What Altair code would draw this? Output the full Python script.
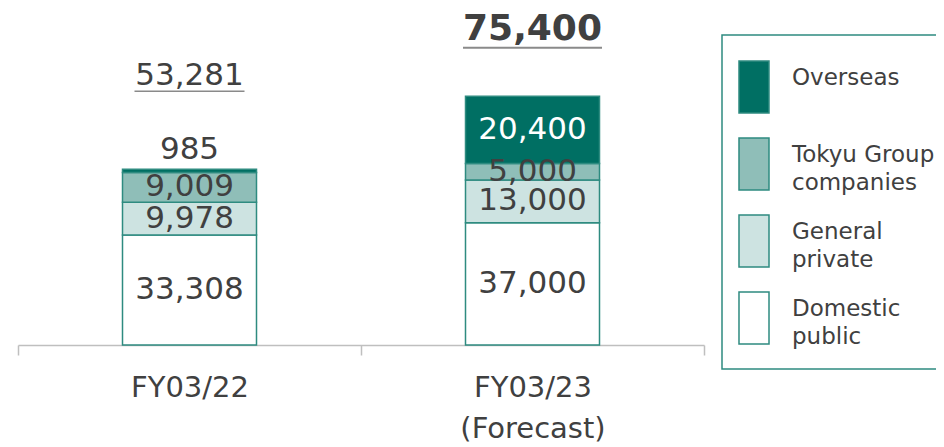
import altair as alt
import pandas as pd

categories = ["FY03/22", "FY03/23 (Forecast)"]
series = ["Overseas", "Tokyu Group companies", "General private", "Domestic public"]
domestic_public = [33308, 37000]
general_private = [9978, 13000]
tokyu_group = [9009, 5000]
overseas = [985, 20400]
totals = [53281, 75400]
colors = ["#006F63", "#8FBEB8", "#CDE3E1", "#FFFFFF"]

values = {
    "Domestic public": domestic_public,
    "General private": general_private,
    "Tokyu Group companies": tokyu_group,
    "Overseas": overseas,
}
stack_order = ["Domestic public", "General private", "Tokyu Group companies", "Overseas"]

rows = []
for i, c in enumerate(categories):
    base = 0
    for k, s in enumerate(stack_order):
        v = values[s][i]
        rows.append(dict(cat=c, series=s, value=v, y0=base, y1=base + v,
                         mid=base + v / 2, label=f"{v:,}"))
        base += v
df = pd.DataFrame(rows)
tot = pd.DataFrame({"cat": categories, "total": totals,
                    "label": [f"{t:,}" for t in totals]})

FONT = "DejaVu Sans"
TXT = "#404040"
TEAL = "#2E8B80"

x_enc = alt.X("cat:N", sort=categories,
              scale=alt.Scale(paddingInner=0, paddingOuter=0),
              axis=alt.Axis(title=None, labelAngle=0,
                            labelExpr="split(datum.label, ' ')",
                            labelFont=FONT, labelFontSize=29, labelColor=TXT,
                            labelLineHeight=41, labelPadding=18,
                            labelBaseline="top",
                            domainColor="#BFBFBF", domainWidth=1.5,
                            tickColor="#BFBFBF", tickWidth=1.5, tickSize=10,
                            tickBand="extent"))
y_scale = alt.Scale(domain=[0, 102100])

legend = alt.Legend(
    title=None, orient="none", legendX=704, legendY=27, direction="vertical",
    symbolType="M-1.182,-0.773H0.182V1.591H-1.182Z", symbolSize=1936,
    symbolStrokeColor=TEAL, symbolStrokeWidth=1.5, symbolOpacity=1,
    labelFont=FONT, labelFontSize=23, labelColor=TXT, labelBaseline="middle",
    labelOffset=4, labelLimit=400,
    labelExpr=("datum.label == 'Overseas' ? ['Overseas', ''] : "
               "datum.label == 'Tokyu Group companies' ? ['Tokyu Group', 'companies'] : "
               "datum.label == 'General private' ? ['General', 'private'] : "
               "['Domestic', 'public']"),
    rowPadding=14,
)

base = alt.Chart(df)

bars = base.mark_bar(size=134, stroke=TEAL, strokeWidth=1.5).encode(
    x=x_enc,
    y=alt.Y("y0:Q", scale=y_scale, axis=None),
    y2="y1:Q",
    color=alt.Color("series:N", scale=alt.Scale(domain=series, range=colors),
                    legend=legend),
)

inside = base.transform_filter("datum.value >= 2000").mark_text(
    font=FONT, fontSize=31, baseline="middle"
).encode(
    x=alt.X("cat:N", sort=categories),
    y=alt.Y("mid:Q", scale=y_scale),
    text="label:N",
    color=alt.condition("datum.series == 'Overseas'", alt.value("white"), alt.value(TXT)),
)

outside = base.transform_filter("datum.value < 2000").mark_text(
    font=FONT, fontSize=31, baseline="middle", dy=-19, color=TXT
).encode(
    x=alt.X("cat:N", sort=categories),
    y=alt.Y("y1:Q", scale=y_scale),
    text="label:N",
)

tbase = alt.Chart(tot)
total1 = tbase.transform_filter(f"datum.cat == '{categories[0]}'").mark_text(
    font=FONT, fontSize=31, baseline="middle", dy=-93, color=TXT
).encode(x=alt.X("cat:N", sort=categories), y=alt.Y("total:Q", scale=y_scale), text="label:N")
total2 = tbase.transform_filter(f"datum.cat == '{categories[1]}'").mark_text(
    font=FONT, fontSize=36, fontWeight="bold", baseline="middle", dy=-67, color=TXT
).encode(x=alt.X("cat:N", sort=categories), y=alt.Y("total:Q", scale=y_scale), text="label:N")

under1 = tbase.transform_filter(f"datum.cat == '{categories[0]}'").mark_tick(
    size=110, thickness=1.5, color="#595959", orient="horizontal"
).encode(x=alt.X("cat:N", sort=categories), y=alt.Y("total:Q", scale=y_scale),
         yOffset=alt.value(-78))
under2 = tbase.transform_filter(f"datum.cat == '{categories[1]}'").mark_tick(
    size=139, thickness=2, color="#595959", orient="horizontal"
).encode(x=alt.X("cat:N", sort=categories), y=alt.Y("total:Q", scale=y_scale),
         yOffset=alt.value(-48.5))

chart = alt.layer(bars, inside, outside, total1, total2, under1, under2).properties(
    width=686, height=337,
    autosize=alt.AutoSizeParams(type="none"),
    padding={"left": 10, "top": 0, "right": 232, "bottom": 102},
).configure(
    style={"guide-label": {"lineHeight": 28}},
    view={"stroke": None},
    legend={"strokeColor": TEAL, "strokeWidth": 1.5, "fillColor": "white",
            "padding": 20, "cornerRadius": 0},
)

chart.save("out.html", embed_options={"renderer": "svg", "actions": False})
